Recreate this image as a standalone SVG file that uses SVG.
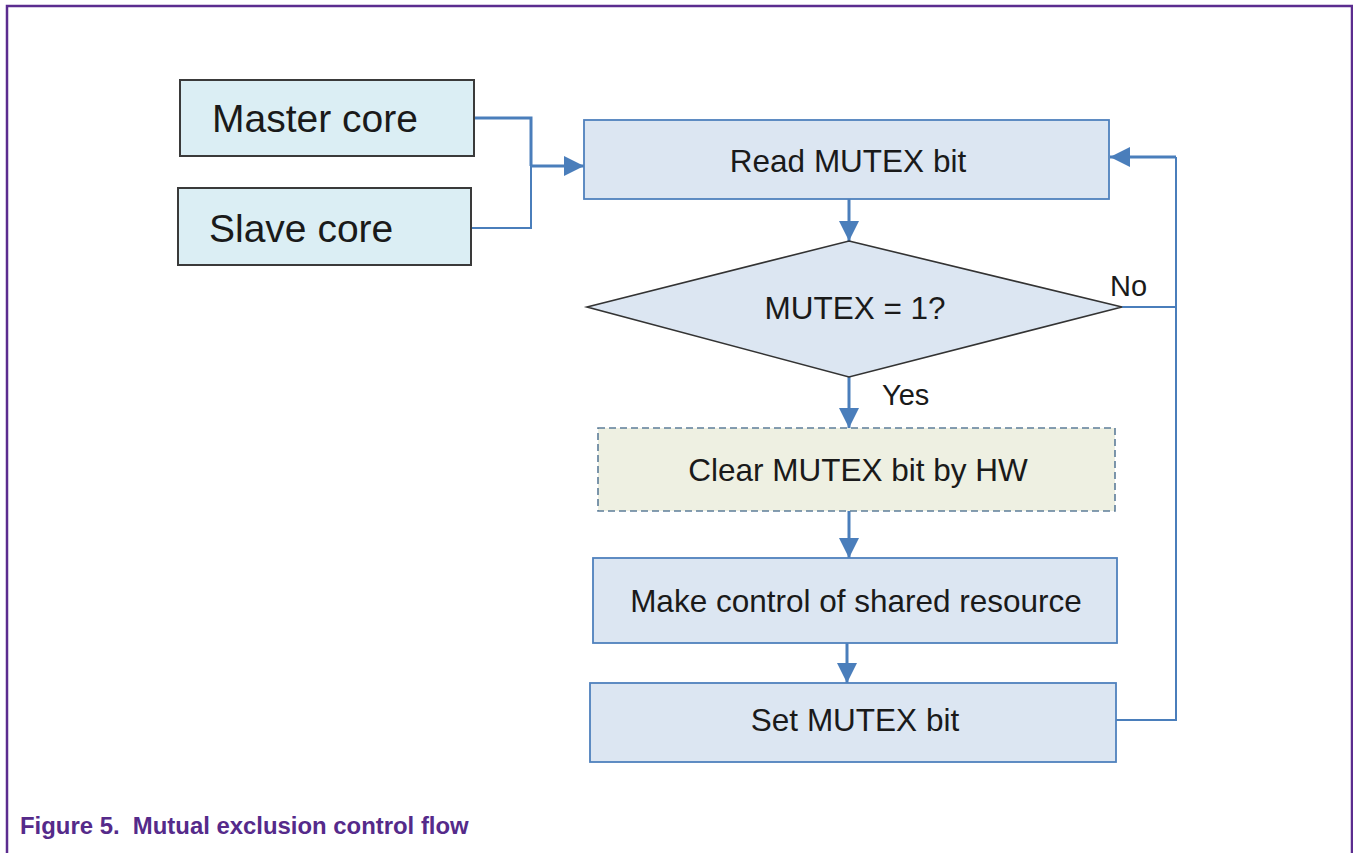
<svg xmlns="http://www.w3.org/2000/svg" width="1353" height="853" viewBox="0 0 1353 853">
<defs>
<style>
.t{font-family:"Liberation Sans",Arial,sans-serif;fill:#1a1a1a}
.big{font-size:39px}
.mid{font-size:31.5px}
.lab{font-size:29px}
.core{fill:#dbeef4;stroke:#3a3a3a;stroke-width:2}
.blue{fill:#dce6f2;stroke:#4f81bd;stroke-width:1.8}
.dia{fill:#dce6f2;stroke:#333;stroke-width:1.6}
.hw{fill:#eef0e2;stroke:#5d7d99;stroke-width:1.6;stroke-dasharray:7 4}
.ln{fill:none;stroke:#4a7ebb;stroke-width:3}
.thin{fill:none;stroke:#4a7ebb;stroke-width:2}
</style>
<marker id="arr" viewBox="0 0 20 20" refX="20" refY="10" markerWidth="20" markerHeight="20" markerUnits="userSpaceOnUse" orient="auto">
<path d="M0,0 L20,10 L0,20 Z" fill="#4a7ebb"/>
</marker>
</defs>
<rect width="1353" height="853" fill="#fff"/>
<path d="M7,853 V6 H1352 V853" fill="none" stroke="#5b2c8f" stroke-width="2.5"/>

<g id="connectors">
<path class="ln" d="M474,118 H531 V166"/>
<path class="thin" d="M471,228 H531 V166"/>
<path class="ln" d="M531,166 H584" marker-end="url(#arr)"/>
<path class="ln" d="M849,199 V241" marker-end="url(#arr)"/>
<path class="ln" d="M849,377 V428" marker-end="url(#arr)"/>
<path class="ln" d="M849,511 V558" marker-end="url(#arr)"/>
<path class="ln" d="M847,643 V683" marker-end="url(#arr)"/>
<path class="thin" d="M1122,307 H1176"/>
<path class="thin" d="M1116,720 H1176 V157"/>
<path class="ln" d="M1176,157 H1110" marker-end="url(#arr)"/>
<text class="t lab" x="1110" y="296">No</text>
<text class="t lab" x="882" y="405">Yes</text>
</g>

<g id="master">
<rect class="core" x="180" y="80" width="294" height="76"/>
<text class="t big" x="212" y="132">Master core</text>
</g>
<g id="slave">
<rect class="core" x="178" y="188" width="293" height="77"/>
<text class="t big" x="209" y="242">Slave core</text>
</g>
<g id="read">
<rect class="blue" x="584" y="120" width="525" height="79"/>
<text class="t mid" x="848" y="172" text-anchor="middle">Read MUTEX bit</text>
</g>
<g id="decision">
<polygon class="dia" points="849,241 1122,307 849,377 587,307"/>
<text class="t mid" x="855" y="319" text-anchor="middle">MUTEX = 1?</text>
</g>
<g id="clear">
<rect class="hw" x="598" y="428" width="517" height="83"/>
<text class="t mid" x="858" y="481" text-anchor="middle">Clear MUTEX bit by HW</text>
</g>
<g id="make">
<rect class="blue" x="593" y="558" width="524" height="85"/>
<text class="t mid" x="856" y="612" text-anchor="middle">Make control of shared resource</text>
</g>
<g id="set">
<rect class="blue" x="590" y="683" width="526" height="79"/>
<text class="t mid" x="855" y="731" text-anchor="middle">Set MUTEX bit</text>
</g>
<text x="20" y="834" xml:space="preserve" style="font-family:'Liberation Sans',Arial,sans-serif;font-weight:bold;font-size:23.9px;fill:#552a8a">Figure 5.  Mutual exclusion control flow</text>
</svg>
